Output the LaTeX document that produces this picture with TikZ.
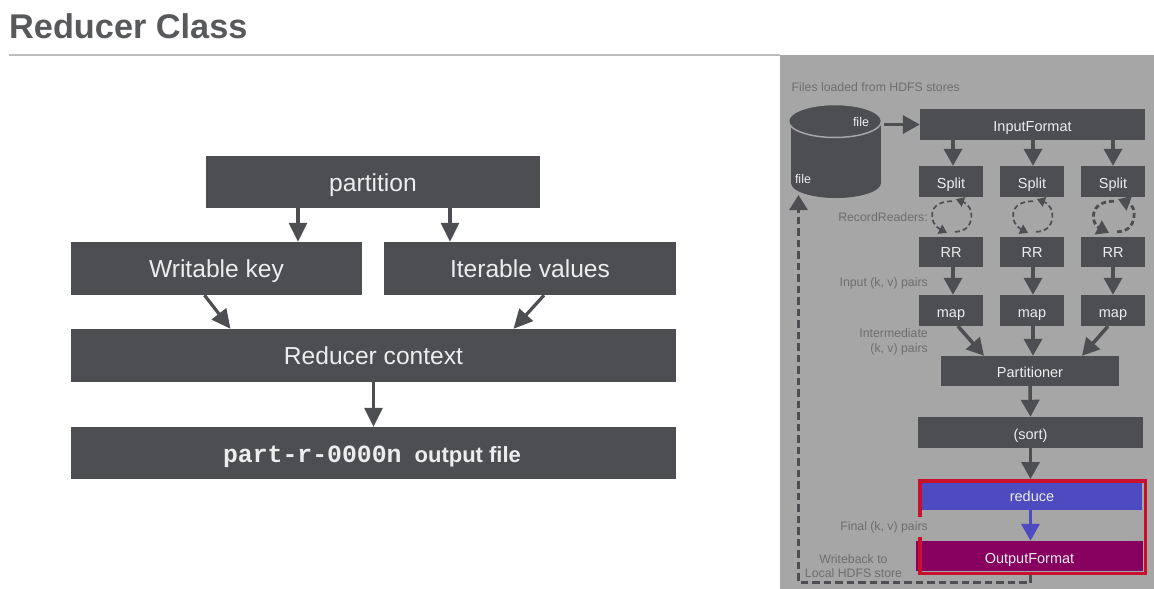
\documentclass[tikz,border=0pt]{standalone}
\usepackage{xcolor}
\usepackage{fontspec}
\setmainfont{Liberation Sans}
\setmonofont{Liberation Mono}
\usetikzlibrary{arrows.meta}
\definecolor{boxgray}{HTML}{4D4E52}
\definecolor{panelgray}{HTML}{A6A6A6}
\definecolor{rulegray}{HTML}{BDBDBD}
\definecolor{titlegray}{HTML}{58595B}
\definecolor{labelgray}{HTML}{6E6E6E}
\definecolor{lighttext}{HTML}{EDEDED}
\definecolor{reduceblue}{HTML}{4E4BC0}
\definecolor{outputpurple}{HTML}{870060}
\definecolor{focusred}{HTML}{C8102E}
\tikzset{bigbox/.style={fill=boxgray,text=lighttext,inner sep=0pt,text height=18pt,text depth=0pt,font=\fontsize{24.6}{28}\selectfont},
         smallbox/.style={fill=boxgray,text=lighttext,inner sep=0pt,text height=13.2pt,text depth=0pt,font=\fontsize{14.5}{17}\selectfont},
         splitbox/.style={smallbox,minimum width=64pt,minimum height=31pt},
         sidelabel/.style={text=labelgray,inner sep=0pt,anchor=east,align=right,font=\fontsize{12.3}{14.5}\selectfont},
         bigarrow/.style={draw=boxgray,line width=3.2pt,-{Triangle[width=18pt,length=19pt]}},
         smallarrow/.style={draw=boxgray,line width=3.5pt,-{Triangle[width=18pt,length=17pt]}},
         readerloop/.style={draw=boxgray,dash pattern=on 5pt off 3pt}}
\begin{document}
\begin{tikzpicture}[x=1pt,y=-1pt]
\useasboundingbox (0,0) rectangle (1154,589);
\fill[white] (0,0) rectangle (1154,589);
\node[anchor=base west,inner sep=0pt,text=titlegray,font=\fontsize{34.3}{40}\selectfont\bfseries] (title) at (9,38) {Reducer Class};
\draw[rulegray,line width=2pt] (9,55)--(780,55);

\node[bigbox,minimum width=334pt,minimum height=52pt] (partition) at (373,182) {partition};
\node[bigbox,minimum width=291pt,minimum height=53pt] (key) at (216.5,268.5) {Writable key};
\node[bigbox,minimum width=292pt,minimum height=53pt] (values) at (530,268.5) {Iterable values};
\node[bigbox,minimum width=605pt,minimum height=53pt] (context) at (373.5,355.5) {Reducer context};
\node[bigbox,text height=19.5pt,minimum width=605pt,minimum height=52pt] (outfile) at (373.5,453) {\fontsize{24.8}{28}\selectfont\texttt{\bfseries part-r-0000n}\hspace{13pt}{\fontsize{22}{26}\selectfont\bfseries output file}\kern3pt};
\draw[bigarrow] ([xshift=-75pt]partition.south)--([xshift=81.5pt]key.north);
\draw[bigarrow] ([xshift=77pt]partition.south)--([xshift=-80pt]values.north);
\draw[bigarrow] ([xshift=-12pt]key.south)--([xshift=-143pt]context.north);
\draw[bigarrow] ([xshift=14pt]values.south)--([xshift=140pt]context.north);
\draw[bigarrow] (context.south)--(outfile.north);

\fill[panelgray] (780,55) rectangle (1154,589);
\node[sidelabel,anchor=west] (loaded) at (791.5,87) {Files loaded from HDFS stores};
\fill[boxgray] (791,125) rectangle (881,183);
\fill[boxgray] (836,183) ellipse (45pt and 15pt);
\draw[fill=boxgray,draw=panelgray,line width=1.5pt] (835,121) ellipse (46.5pt and 16.5pt);
\node[text=lighttext,inner sep=0pt,font=\fontsize{12.5}{15}\selectfont] (filetop) at (861,122) {file};
\node[text=lighttext,inner sep=0pt,font=\fontsize{12.5}{15}\selectfont] (filebottom) at (803,179) {file};
\coordinate (storeout) at (884,124.5);
\coordinate (storein) at (798.5,195);
\coordinate (backcorner) at (798.5,582.5);

\node[smallbox,minimum width=225pt,minimum height=31pt] (input) at (1032.5,124.5) {InputFormat};
\draw[smallarrow] (storeout)--(input.west);
\foreach \n/\posx/\arrowshift in {1/951/2,2/1032/1,3/1113/0} {
  \node[splitbox] (split\n) at (\posx,181.5) {Split};
  \node[splitbox,text height=11.2pt,minimum height=30pt] (rr\n) at (\posx,252) {RR};
  \node[splitbox,text height=14.2pt] (map\n) at (\posx,310.5) {map};
  \draw[smallarrow] ([xshift=\arrowshift pt]split\n.north |- input.south)--([xshift=\arrowshift pt]split\n.north);
  \draw[smallarrow] ([xshift=\arrowshift pt]rr\n.south)--([xshift=\arrowshift pt]map\n.north);
}
\foreach \n/\loopwidth/\tipwidth/\tiplength in {1/1.7/10/8,2/1.7/10/8,3/2.8/15/12} {
  \draw[readerloop,line width=\loopwidth pt,-{Triangle[width=\tipwidth pt,length=\tiplength pt]}] ([xshift=4pt,yshift=5pt]rr\n.north) .. controls ([xshift=25pt,yshift=5pt]rr\n.north) and ([xshift=24pt,yshift=-9pt]split\n.south) .. ([xshift=5pt,yshift=-2pt]split\n.south);
  \draw[readerloop,line width=\loopwidth pt,-{Triangle[width=\tipwidth pt,length=\tiplength pt]}] ([xshift=1pt,yshift=-4pt]split\n.south) .. controls ([xshift=-25pt,yshift=-4pt]split\n.south) and ([xshift=-22pt,yshift=13pt]rr\n.north) .. ([xshift=-4pt,yshift=4pt]rr\n.north);
}
\node[sidelabel] (readers) at (928,217) {RecordReaders:};
\node[sidelabel] (pairsin) at (928,283) {Input (k, v) pairs};
\node[sidelabel] (pairsmid) at (928,342) {Intermediate\\(k, v) pairs};

\node[smallbox,minimum width=178pt,minimum height=30pt] (partitioner) at (1030,371) {Partitioner};
\node[smallbox,text height=14.2pt,minimum width=225pt,minimum height=31pt] (sorter) at (1030.5,432.5) {(sort)};
\node[smallbox,fill=reduceblue,text height=9.2pt,minimum width=220pt,minimum height=27pt] (reducer) at (1032,496.5) {reduce};
\node[smallbox,fill=outputpurple,text height=14.2pt,minimum width=227pt,minimum height=30pt] (output) at (1029.5,556) {OutputFormat};
\node[draw=focusred,line width=3.5pt,inner sep=0pt,minimum width=225.5pt,minimum height=92.5pt] (focus) at (1032.5,527) {};
\draw[smallarrow] ([xshift=7pt]map1.south)--([xshift=-46pt]partitioner.north);
\draw[smallarrow] ([xshift=1pt]map2.south)--([xshift=3pt]partitioner.north);
\draw[smallarrow] ([xshift=-5pt]map3.south)--([xshift=52pt]partitioner.north);
\draw[smallarrow] (partitioner.south)--(sorter.north);
\draw[smallarrow] (sorter.south)--(sorter.south |- focus.north);
\draw[smallarrow,draw=reduceblue] (sorter.south |- reducer.south)--(sorter.south |- output.north);
\node[sidelabel,fill=panelgray,minimum height=20pt,inner xsep=0pt] (pairsout) at (928,527) {Final (k, v) pairs};

\node[text=labelgray,inner sep=0pt,align=center,font=\fontsize{12.3}{14.7}\selectfont] (writeback) at (853.5,566) {Writeback to\\Local HDFS store};
\draw[boxgray,line width=3pt,dash pattern=on 7.5pt off 4pt,-{Triangle[width=18pt,length=15pt]}] (sorter.south |- focus.south)--(sorter.south |- backcorner)--(backcorner)--(storein);
\end{tikzpicture}
\end{document}
